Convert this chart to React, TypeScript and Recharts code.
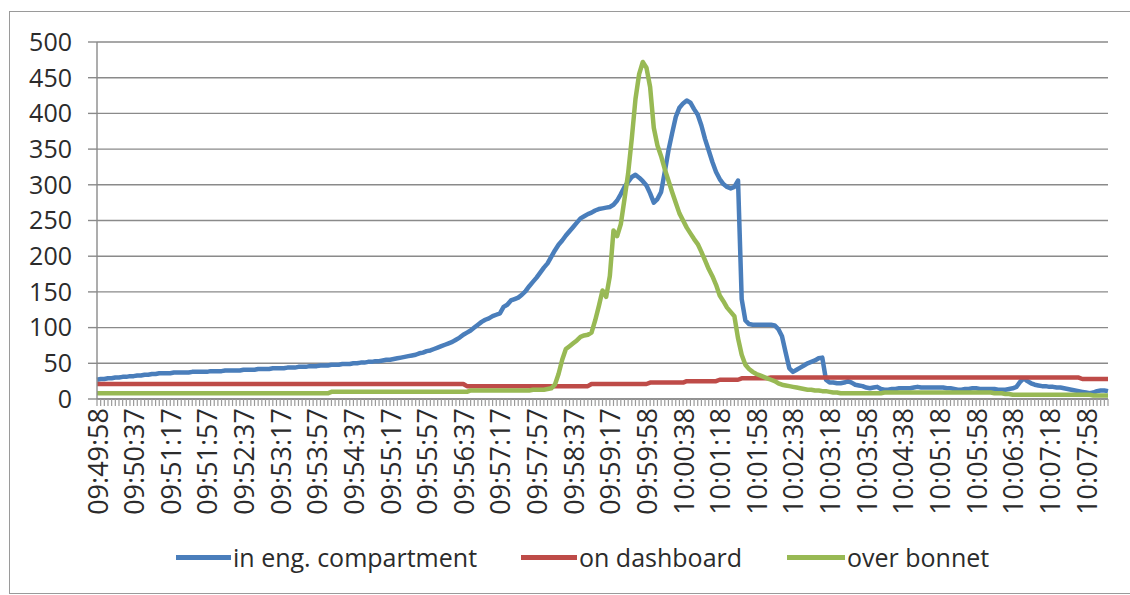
import React from 'react';
import { LineChart, Line, XAxis, YAxis, CartesianGrid } from 'recharts';

// one label every 10 samples (~4 s sampling)
const timeLabels = [
  '09:49:58', '09:50:37', '09:51:17', '09:51:57', '09:52:37', '09:53:17', '09:53:57',
  '09:54:37', '09:55:17', '09:55:57', '09:56:37', '09:57:17', '09:57:57', '09:58:37',
  '09:59:17', '09:59:58', '10:00:38', '10:01:18', '10:01:58', '10:02:38', '10:03:18',
  '10:03:58', '10:04:38', '10:05:18', '10:05:58', '10:06:38', '10:07:18', '10:07:58',
];

const yTicks = [0, 50, 100, 150, 200, 250, 300, 350, 400, 450, 500];

const engCompartment = [
  27, 28, 28, 29, 29, 30, 30, 31, 31, 32,
  32, 33, 33, 34, 34, 35, 35, 36, 36, 36,
  36, 37, 37, 37, 37, 37, 38, 38, 38, 38,
  38, 39, 39, 39, 39, 40, 40, 40, 40, 40,
  41, 41, 41, 41, 42, 42, 42, 42, 43, 43,
  43, 43, 44, 44, 44, 45, 45, 45, 46, 46,
  46, 47, 47, 47, 48, 48, 48, 49, 49, 49,
  50, 50, 51, 51, 52, 52, 53, 53, 54, 55,
  55, 56, 57, 58, 59, 60, 61, 62, 64, 65,
  67, 68, 70, 72, 74, 76, 78, 80, 83, 86,
  90, 93, 96, 100, 104, 108, 111, 113, 116, 118,
  120, 129, 132, 138, 140, 142, 146, 151, 158, 164,
  170, 177, 184, 190, 199, 208, 216, 222, 229, 235,
  241, 247, 253, 256, 259, 261, 264, 266, 267, 268,
  269, 272, 278, 287, 297, 304, 311, 314, 310, 305,
  299, 288, 275, 280, 290, 318, 348, 372, 395, 408,
  414, 418, 415, 406, 398, 383, 364, 348, 332, 318,
  308, 301, 297, 295, 297, 306, 140, 110, 105, 104,
  104, 104, 104, 104, 104, 103, 98, 88, 65, 43,
  38, 41, 44, 47, 50, 52, 54, 57, 58, 27,
  23, 23, 22, 22, 23, 25, 23, 20, 19, 18,
  16, 15, 16, 17, 14, 13, 13, 14, 14, 15,
  15, 15, 15, 16, 17, 16, 16, 16, 16, 16,
  16, 16, 15, 15, 14, 13, 13, 14, 14, 15,
  15, 14, 14, 14, 14, 14, 13, 13, 13, 14,
  15, 17, 24, 29, 25, 22, 20, 19, 18, 18,
  17, 17, 16, 16, 15, 14, 13, 12, 11, 10,
  9, 8, 9, 11, 12, 12, 11,
];

const dashboard = [
  21, 21, 21, 21, 21, 21, 21, 21, 21, 21,
  21, 21, 21, 21, 21, 21, 21, 21, 21, 21,
  21, 21, 21, 21, 21, 21, 21, 21, 21, 21,
  21, 21, 21, 21, 21, 21, 21, 21, 21, 21,
  21, 21, 21, 21, 21, 21, 21, 21, 21, 21,
  21, 21, 21, 21, 21, 21, 21, 21, 21, 21,
  21, 21, 21, 21, 21, 21, 21, 21, 21, 21,
  21, 21, 21, 21, 21, 21, 21, 21, 21, 21,
  21, 21, 21, 21, 21, 21, 21, 21, 21, 21,
  21, 21, 21, 21, 21, 21, 21, 21, 21, 21,
  21, 18, 18, 18, 18, 18, 18, 18, 18, 18,
  18, 18, 18, 18, 18, 18, 18, 18, 18, 18,
  18, 18, 18, 18, 18, 18, 18, 18, 18, 18,
  18, 18, 18, 18, 18, 21, 21, 21, 21, 21,
  21, 21, 21, 21, 21, 21, 21, 21, 21, 21,
  21, 23, 23, 23, 23, 23, 23, 23, 23, 23,
  23, 25, 25, 25, 25, 25, 25, 25, 25, 25,
  27, 27, 27, 27, 27, 27, 29, 29, 29, 29,
  29, 29, 29, 29, 30, 30, 30, 30, 30, 30,
  30, 30, 30, 30, 30, 30, 30, 30, 30, 30,
  30, 30, 30, 30, 30, 30, 30, 30, 30, 30,
  30, 30, 30, 30, 30, 30, 30, 30, 30, 30,
  30, 30, 30, 30, 30, 30, 30, 30, 30, 30,
  30, 30, 30, 30, 30, 30, 30, 30, 30, 30,
  30, 30, 30, 30, 30, 30, 30, 30, 30, 30,
  30, 30, 30, 30, 30, 30, 30, 30, 30, 30,
  30, 30, 30, 30, 30, 30, 30, 30, 30, 28,
  28, 28, 28, 28, 28, 28, 28,
];

const overBonnet = [
  8, 8, 8, 8, 8, 8, 8, 8, 8, 8,
  8, 8, 8, 8, 8, 8, 8, 8, 8, 8,
  8, 8, 8, 8, 8, 8, 8, 8, 8, 8,
  8, 8, 8, 8, 8, 8, 8, 8, 8, 8,
  8, 8, 8, 8, 8, 8, 8, 8, 8, 8,
  8, 8, 8, 8, 8, 8, 8, 8, 8, 8,
  8, 8, 8, 8, 10, 10, 10, 10, 10, 10,
  10, 10, 10, 10, 10, 10, 10, 10, 10, 10,
  10, 10, 10, 10, 10, 10, 10, 10, 10, 10,
  10, 10, 10, 10, 10, 10, 10, 10, 10, 10,
  10, 10, 12, 12, 12, 12, 12, 12, 12, 12,
  12, 12, 12, 12, 12, 12, 12, 12, 12, 13,
  13, 13, 13, 14, 15, 20, 35, 55, 70, 74,
  78, 82, 87, 89, 90, 93, 110, 130, 152, 143,
  172, 236, 228, 245, 280, 316, 365, 420, 455, 472,
  464, 437, 380, 355, 340, 322, 306, 290, 275, 260,
  250, 240, 232, 224, 217, 206, 194, 182, 172, 160,
  145, 137, 128, 122, 116, 85, 62, 48, 42, 38,
  35, 33, 31, 29, 27, 25, 22, 20, 19, 18,
  17, 16, 15, 14, 13, 13, 12, 12, 11, 11,
  10, 9, 9, 8, 8, 8, 8, 8, 8, 8,
  8, 8, 8, 8, 8, 9, 9, 9, 9, 9,
  9, 9, 9, 9, 9, 9, 9, 9, 9, 9,
  9, 9, 9, 9, 9, 9, 9, 9, 9, 9,
  9, 9, 9, 9, 9, 8, 8, 8, 7, 7,
  6, 6, 6, 6, 6, 6, 6, 6, 6, 6,
  6, 6, 6, 6, 6, 6, 6, 6, 6, 6,
  6, 6, 5, 5, 5, 5, 5,
];

const series = [
  { key: 'eng', name: 'in eng. compartment', color: '#4a7ebb' },
  { key: 'dash', name: 'on dashboard', color: '#be4b48' },
  { key: 'bonnet', name: 'over bonnet', color: '#98b954' },
];

const rows = engCompartment.map((v, i) => ({
  i,
  eng: v,
  dash: dashboard[i],
  bonnet: overBonnet[i],
}));

const FONT = '"Open Sans", "DejaVu Sans", sans-serif';
const TEXT = '#2b2b2b';
const GRID = '#8a8a8a';

const TimeTick = (props: any) => {
  const { x, y, payload } = props;
  const i = payload.value as number;
  if (i % 10 !== 0) return <g />;
  const ty = y + 2;
  return (
    <text
      x={x}
      y={ty}
      transform={`rotate(-90, ${x}, ${ty})`}
      textAnchor="end"
      dominantBaseline="central"
      fontFamily={FONT}
      fontSize={27}
      fill={TEXT}
    >
      {timeLabels[i / 10]}
    </text>
  );
};

const legendPos = [
  { line: 176, text: 233 },
  { line: 521, text: 579 },
  { line: 787, text: 847 },
];

export default function App() {
  return (
    <div
      style={{
        position: 'fixed',
        left: 0,
        top: 0,
        width: 1130,
        height: 595,
        overflow: 'hidden',
        background: '#fff',
        fontFamily: FONT,
      }}
    >
      <div
        style={{
          position: 'absolute',
          left: 9,
          top: 11,
          width: 1140,
          height: 581,
          border: '1.5px solid #9a9a9a',
        }}
      />
      <div style={{ position: 'absolute', left: 0, top: 0 }}>
        <LineChart
          width={1130}
          height={595}
          data={rows}
          margin={{ top: 42, right: 22, bottom: 0, left: 0 }}
        >
          <CartesianGrid vertical={false} stroke={GRID} strokeWidth={1.4} />
          <XAxis
            dataKey="i"
            type="category"
            interval={0}
            height={196}
            tick={TimeTick}
            tickSize={7}
            tickMargin={0}
            tickLine={{ stroke: '#9a9a9a', strokeWidth: 1.2 }}
            axisLine={{ stroke: GRID, strokeWidth: 1.4 }}
          />
          <YAxis
            domain={[0, 500]}
            ticks={yTicks}
            width={97}
            tickSize={9}
            tickMargin={16}
            tickLine={{ stroke: GRID, strokeWidth: 1.4 }}
            axisLine={{ stroke: GRID, strokeWidth: 1.4 }}
            tick={{ fontFamily: FONT, fontSize: 25, fill: TEXT }}
          />
          {series.map((s) => (
            <Line
              key={s.key}
              dataKey={s.key}
              name={s.name}
              type="linear"
              stroke={s.color}
              strokeWidth={4.5}
              strokeLinejoin="round"
              dot={false}
              activeDot={false}
              isAnimationActive={false}
            />
          ))}
        </LineChart>
      </div>
      {series.map((s, k) => (
        <React.Fragment key={s.key}>
          <div
            style={{
              position: 'absolute',
              left: legendPos[k].line,
              top: 555,
              width: legendPos[k].text - legendPos[k].line - 2,
              height: 4.5,
              background: s.color,
            }}
          />
          <div
            style={{
              position: 'absolute',
              left: legendPos[k].text,
              top: 540,
              fontSize: 25,
              lineHeight: '34px',
              color: TEXT,
              whiteSpace: 'nowrap',
            }}
          >
            {s.name}
          </div>
        </React.Fragment>
      ))}
    </div>
  );
}
